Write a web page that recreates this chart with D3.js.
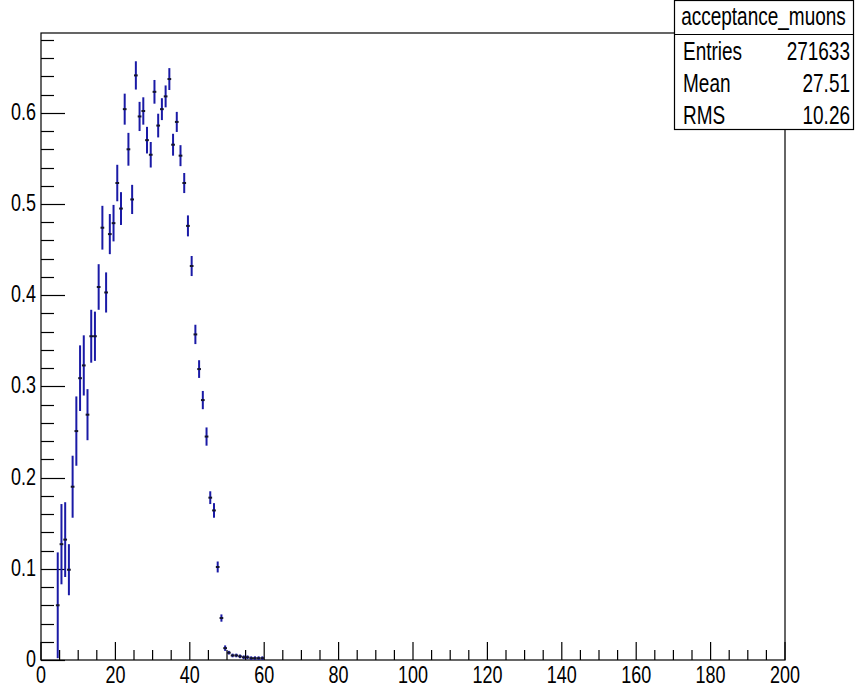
<!DOCTYPE html>
<html>
<head>
<meta charset="utf-8">
<script src="https://cdn.jsdelivr.net/npm/d3@7"></script>
<style>
  body { margin: 0; background: #fff; }
  text { font-family: "Liberation Sans", Arial, sans-serif; fill: #000; }
</style>
</head>
<body>
<div id="chart"></div>
<script>
// histogram bins (lower edge, width 1)
const binLow = [4, 5, 6, 7, 8, 9, 10, 11, 12, 13, 14, 15, 16, 17, 18, 19, 20, 21, 22, 23,
  24, 25, 26, 27, 28, 29, 30, 31, 32, 33, 34, 35, 36, 37, 38, 39, 40, 41, 42, 43,
  44, 45, 46, 47, 48, 49, 50, 51, 52, 53, 54, 55, 56, 57, 58, 59];
const values = [0.060, 0.127, 0.132, 0.099, 0.190, 0.251, 0.309, 0.323, 0.269, 0.355,
  0.355, 0.409, 0.474, 0.403, 0.467, 0.479, 0.523, 0.495, 0.604, 0.560,
  0.505, 0.641, 0.596, 0.602, 0.570, 0.554, 0.623, 0.586, 0.604, 0.618,
  0.637, 0.565, 0.590, 0.553, 0.523, 0.476, 0.432, 0.357, 0.319, 0.285,
  0.245, 0.178, 0.164, 0.102, 0.046, 0.013, 0.008, 0.005, 0.005, 0.004,
  0.003, 0.003, 0.002, 0.002, 0.002, 0.002];
const errors = [0.058, 0.044, 0.041, 0.028, 0.034, 0.038, 0.036, 0.033, 0.028, 0.029,
  0.027, 0.025, 0.024, 0.022, 0.022, 0.020, 0.020, 0.018, 0.017, 0.018,
  0.016, 0.0155, 0.016, 0.015, 0.0146, 0.014, 0.013, 0.013, 0.012, 0.012,
  0.012, 0.012, 0.011, 0.0115, 0.011, 0.0115, 0.011, 0.0106, 0.0097, 0.010,
  0.010, 0.007, 0.008, 0.006, 0.004, 0.003, 0.002, 0.002, 0.002, 0.002,
  0.002, 0.002, 0.002, 0.002, 0.002, 0.002];

const xTicks = [0, 20, 40, 60, 80, 100, 120, 140, 160, 180, 200];
const yTicks = [0, 0.1, 0.2, 0.3, 0.4, 0.5, 0.6];

const statsTitle = "acceptance_muons";
const statsLabels = ["Entries", "Mean", "RMS"];
const statsValues = ["271633", "27.51", "10.26"];

const width = 855, height = 688;
const frame = { left: 41, right: 785, top: 33, bottom: 660 };
const stretch = 1.32;

const svg = d3.select("#chart").append("svg")
  .attr("width", width)
  .attr("height", height);

const x = d3.scaleLinear().domain([0, 200]).range([frame.left, frame.right]);
const y = d3.scaleLinear().domain([0, 0.6875]).range([frame.bottom, frame.top]);

// stretched text helper
function label(sel, tx, ty, str, anchor, size) {
  sel.append("text")
    .attr("transform", `translate(${tx},${ty}) scale(1,${stretch})`)
    .attr("text-anchor", anchor)
    .style("font-size", size + "px")
    .text(str);
}

// frame
svg.append("rect")
  .attr("x", frame.left).attr("y", frame.top)
  .attr("width", frame.right - frame.left)
  .attr("height", frame.bottom - frame.top)
  .attr("fill", "none").attr("stroke", "#000").attr("stroke-width", 1.2);

// x ticks (inside, pointing up)
const xMinor = d3.range(0, 201, 5);
svg.append("g").selectAll("line").data(xMinor).join("line")
  .attr("x1", d => x(d)).attr("x2", d => x(d))
  .attr("y1", frame.bottom)
  .attr("y2", d => frame.bottom - (d % 20 === 0 ? 18 : 10))
  .attr("stroke", "#000").attr("stroke-width", 1.2);

xTicks.forEach(t => label(svg, x(t), 683, String(t), "middle", 18));

// y ticks (inside, pointing right)
const yMinor = d3.range(0, 0.6875, 0.02);
svg.append("g").selectAll("line").data(yMinor).join("line")
  .attr("x1", frame.left)
  .attr("x2", (d, i) => frame.left + (i % 5 === 0 ? 24 : 13))
  .attr("y1", d => Math.round(y(d)) + 0.5).attr("y2", d => Math.round(y(d)) + 0.5)
  .attr("stroke", "#000").attr("stroke-width", 1.2);

yTicks.forEach(t => label(svg, 36, y(t) + 7, t === 0 ? "0" : d3.format(".1f")(t), "end", 18));

// error bars
const pts = binLow.map((b, i) => ({ lo: b, v: values[i], e: errors[i] }));
const g = svg.append("g");
g.selectAll(".ev").data(pts).join("line")
  .attr("class", "ev")
  .attr("x1", d => x(d.lo + 0.5)).attr("x2", d => x(d.lo + 0.5))
  .attr("y1", d => y(Math.max(0, d.v - d.e)))
  .attr("y2", d => y(d.v + d.e))
  .attr("stroke", "#1a1aa6").attr("stroke-width", 2);
g.selectAll(".eh").data(pts).join("line")
  .attr("class", "eh")
  .attr("x1", d => x(d.lo)).attr("x2", d => x(d.lo + 1))
  .attr("y1", d => y(d.v)).attr("y2", d => y(d.v))
  .attr("stroke", "#14142e").attr("stroke-width", 2);

// stats box
const box = { x: 674, y: 0, w: 179, h: 129 };
svg.append("rect")
  .attr("x", box.x + 0.5).attr("y", box.y + 0.5)
  .attr("width", box.w).attr("height", box.h)
  .attr("fill", "#fff").attr("stroke", "#000").attr("stroke-width", 1.2);
svg.append("line")
  .attr("x1", box.x).attr("x2", box.x + box.w)
  .attr("y1", 34.5).attr("y2", 34.5)
  .attr("stroke", "#000").attr("stroke-width", 1.2);
label(svg, box.x + box.w / 2, 25, statsTitle, "middle", 19);
statsLabels.forEach((s, i) => {
  label(svg, 683, 60 + i * 32, s, "start", 19);
  label(svg, 850, 60 + i * 32, statsValues[i], "end", 19);
});
</script>
</body>
</html>
